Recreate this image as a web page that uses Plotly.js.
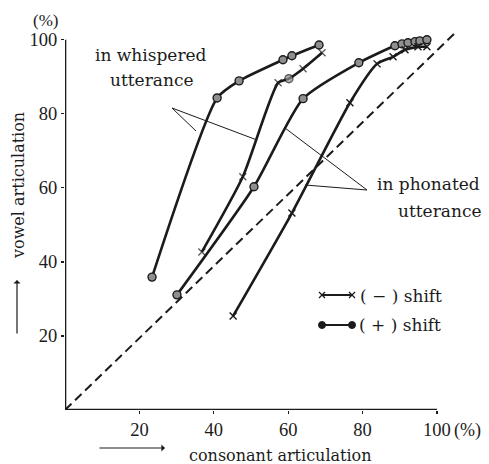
<!DOCTYPE html>
<html>
<head>
<meta charset="utf-8">
<script src="https://cdn.plot.ly/plotly-3.0.1.min.js"></script>
<style>html,body{margin:0;padding:0;background:#fff;}#chart{width:489px;height:464px;}</style>
</head>
<body>
<div id="chart"></div>
<script>
// ---- data ----
const tickVals = [20, 40, 60, 80, 100];
const tickLabels = ["20", "40", "60", "80", "100"];

// whispered utterance, (+) shift
const whPlusX = [23.4, 40.9, 46.8, 58.6, 61.0, 68.3];
const whPlusY = [35.9, 84.3, 88.9, 94.6, 95.7, 98.6];
// whispered utterance, (-) shift
const whMinusX = [36.8, 47.8, 57.3, 60.2, 64.0, 69.1];
const whMinusY = [42.7, 63.0, 88.4, 89.5, 92.2, 96.5];
const whMinusSym = ["x-thin", "x-thin", "x-thin", "circle", "x-thin", "x-thin"];
// phonated utterance, (+) shift
const phPlusX = [30.1, 50.8, 64.0, 79.0, 88.7, 90.6, 92.2, 94.1, 95.4, 97.3];
const phPlusY = [31.1, 60.3, 84.1, 93.8, 98.4, 98.9, 99.2, 99.5, 99.7, 100.0];
// phonated utterance, (-) shift
const phMinusX = [45.2, 61.0, 76.6, 83.9, 88.2, 91.4, 94.9, 97.3];
const phMinusY = [25.4, 53.2, 83.0, 93.5, 95.4, 97.3, 98.1, 98.1];
// diagonal reference line
const diagX = [0, 105];
const diagY = [0, 102];

// ---- layout geometry ----
const W = 489, H = 464;
const M = {l: 65, r: 26, t: 25, b: 54};
const PW = W - M.l - M.r, PH = H - M.t - M.b;
const px = v => (v - M.l) / PW;          // pixel -> paper x
const py = v => (H - M.b - v) / PH;      // pixel -> paper y

const INK = "#1b1b1b";
const serifTxt = "DejaVu Serif, serif";
const serifNum = "Liberation Serif, Times New Roman, serif";

function curve(x, y, sym, size) {
  return {
    x: x, y: y, type: "scatter", mode: "lines+markers",
    line: {color: INK, width: 2.6, shape: "spline", smoothing: 0.6},
    marker: {symbol: sym, size: size, color: "#8f8f8f",
             line: {color: INK, width: 1.4}},
    hoverinfo: "skip"
  };
}

const traces = [
  {x: diagX, y: diagY, type: "scatter", mode: "lines",
   line: {color: INK, width: 2, dash: "9px,5px"}, hoverinfo: "skip"},
  curve(whPlusX, whPlusY, "circle", 8),
  curve(whMinusX, whMinusY, whMinusSym, whMinusSym.map(s => s === "circle" ? 8 : 7)),
  curve(phPlusX, phPlusY, "circle", 8),
  curve(phMinusX, phMinusY, "x-thin", 7)
];

const shapes = [
  // axis lines
  {type: "line", xref: "x", yref: "y", x0: 0, y0: 0, x1: 100, y1: 0, line: {color: INK, width: 2.6}},
  {type: "line", xref: "x", yref: "y", x0: 0, y0: 0, x1: 0, y1: 100, line: {color: INK, width: 2.6}},
  // leader lines whispered
  {type: "line", xref: "paper", yref: "paper", x0: px(172), y0: py(108), x1: px(196), y1: py(131), line: {color: INK, width: 1}},
  {type: "line", xref: "paper", yref: "paper", x0: px(172), y0: py(108), x1: px(257), y1: py(140), line: {color: INK, width: 1}},
  // leader lines phonated
  {type: "line", xref: "paper", yref: "paper", x0: px(367), y0: py(190), x1: px(285), y1: py(128), line: {color: INK, width: 1}},
  {type: "line", xref: "paper", yref: "paper", x0: px(367), y0: py(190), x1: px(305), y1: py(185), line: {color: INK, width: 1}},
  // legend samples
  {type: "line", xref: "paper", yref: "paper", x0: px(322), y0: py(295), x1: px(352), y1: py(295), line: {color: INK, width: 2}},
  {type: "line", xref: "paper", yref: "paper", x0: px(322), y0: py(325), x1: px(352), y1: py(325), line: {color: INK, width: 2}}
];
// legend x marks and dots
[322, 352].forEach(cx => {
  shapes.push({type: "line", xref: "paper", yref: "paper", x0: px(cx - 3), y0: py(292), x1: px(cx + 3), y1: py(298), line: {color: INK, width: 1.2}});
  shapes.push({type: "line", xref: "paper", yref: "paper", x0: px(cx - 3), y0: py(298), x1: px(cx + 3), y1: py(292), line: {color: INK, width: 1.2}});
  shapes.push({type: "circle", xref: "paper", yref: "paper", x0: px(cx - 3.5), y0: py(321.5), x1: px(cx + 3.5), y1: py(328.5), fillcolor: INK, line: {color: INK, width: 1}});
});

function txt(text, x, y, size, opts) {
  return Object.assign({
    text: text, xref: "paper", yref: "paper", x: px(x), y: py(y),
    showarrow: false, font: {family: serifTxt, size: size, color: INK},
    xanchor: "left", yanchor: "middle"
  }, opts || {});
}

const annotations = [
  txt("in whispered", 93, 55, 17),
  txt("utterance", 108, 80, 17),
  txt("in phonated", 375, 184, 17),
  txt("utterance", 396, 211, 17),
  txt("( − ) shift", 358, 296, 17),
  txt("( + ) shift", 357, 325, 17),
  txt("(%)", 31, 20, 15, {font: {family: serifNum, size: 17, color: INK}}),
  txt("(%)", 452, 430, 17, {font: {family: serifNum, size: 18, color: INK}}),
  txt("consonant articulation", 280, 455, 16, {xanchor: "center"}),
  txt("vowel articulation", 18, 186, 16, {xanchor: "center", textangle: -90}),
  // arrows beside axis titles
  {xref: "paper", yref: "paper", x: px(165), y: py(448), ax: -67, ay: 0,
   showarrow: true, arrowhead: 1, arrowsize: 1, arrowwidth: 1.2, arrowcolor: INK, text: ""},
  {xref: "paper", yref: "paper", x: px(17), y: py(280), ax: 0, ay: 55,
   showarrow: true, arrowhead: 1, arrowsize: 1, arrowwidth: 1.2, arrowcolor: INK, text: ""}
];

const axisCommon = {
  tickmode: "array", tickvals: tickVals, ticktext: tickLabels,
  ticks: "outside", ticklen: 3, tickwidth: 1.2, tickcolor: INK,
  showgrid: false, zeroline: false, showline: false,
  tickfont: {family: serifNum, size: 18.5, color: INK},
  fixedrange: true
};

const layout = {
  width: W, height: H,
  margin: M,
  paper_bgcolor: "#fff", plot_bgcolor: "#fff",
  showlegend: false,
  xaxis: Object.assign({}, axisCommon, {range: [0, 107]}),
  yaxis: Object.assign({}, axisCommon, {range: [0, 104]}),
  shapes: shapes,
  annotations: annotations
};

Plotly.newPlot("chart", traces, layout, {staticPlot: true, displayModeBar: false});
</script>
</body>
</html>
